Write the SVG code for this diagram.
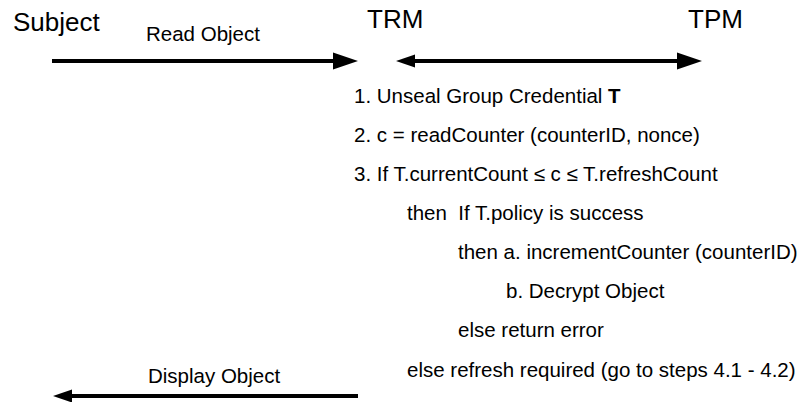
<svg xmlns="http://www.w3.org/2000/svg" width="799" height="402" viewBox="0 0 799 402">
  <style>
    text { font-family: "Liberation Sans", Arial, sans-serif; fill: #000; }
    .big { font-size: 26px; }
    .lbl { font-size: 20.5px; }
    .step { font-size: 20.5px; white-space: pre; }
    .conn { stroke: #000; stroke-width: 4; fill: none; }
  </style>
  <defs>
    <marker id="headL" markerUnits="userSpaceOnUse" markerWidth="25" markerHeight="17" refX="7" refY="8.5" orient="auto" overflow="visible">
      <path d="M0,0 L25,8.5 L0,17 z" fill="#000"/>
    </marker>
    <marker id="headS" markerUnits="userSpaceOnUse" markerWidth="19" markerHeight="13" refX="7" refY="6.5" orient="auto-start-reverse" overflow="visible">
      <path d="M0,0 L19,6.5 L0,13 z" fill="#000"/>
    </marker>
  </defs>

  <g id="subject"><text class="big" x="13" y="31">Subject</text></g>
  <g id="trm"><text class="big" x="367" y="28">TRM</text></g>
  <g id="tpm"><text class="big" x="688" y="28">TPM</text></g>

  <g id="connectors">
    <line class="conn" x1="52" y1="61" x2="340" y2="61" marker-end="url(#headL)"/>
    <line class="conn" x1="408" y1="61" x2="684" y2="61" marker-start="url(#headS)" marker-end="url(#headL)"/>
    <line class="conn" x1="358" y1="396" x2="65" y2="396" marker-end="url(#headS)"/>
  </g>

  <g id="labels">
    <text class="lbl" x="146" y="41">Read Object</text>
    <text class="lbl" x="148" y="383">Display Object</text>
  </g>

  <g id="steps">
    <text class="step" x="354" y="103">1. Unseal Group Credential <tspan font-weight="bold">T</tspan></text>
    <text class="step" x="354" y="142">2. c = readCounter (counterID, nonce)</text>
    <text class="step" x="354" y="181">3. If T.currentCount ≤ c ≤ T.refreshCount</text>
    <text class="step" x="407" y="220">then  If T.policy is success</text>
    <text class="step" x="458" y="259">then a. incrementCounter (counterID)</text>
    <text class="step" x="506" y="298">b. Decrypt Object</text>
    <text class="step" x="458" y="337">else return error</text>
    <text class="step" x="407" y="377">else refresh required (go to steps 4.1 - 4.2)</text>
  </g>
</svg>
